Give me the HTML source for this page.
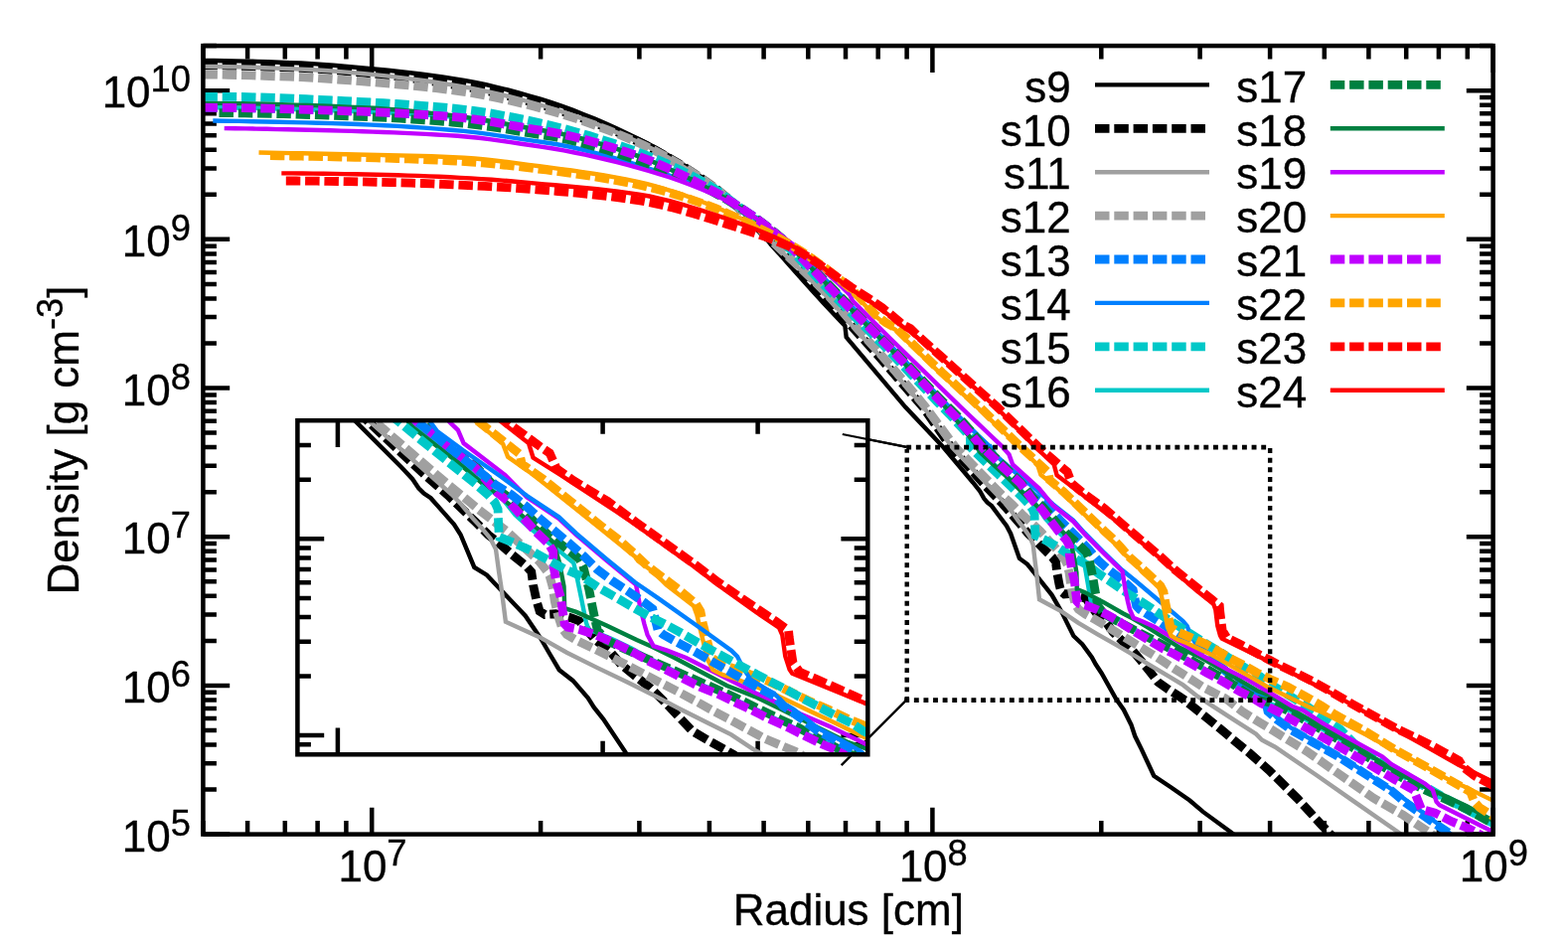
<!DOCTYPE html>
<html><head><meta charset="utf-8"><title>Density profiles</title>
<style>html,body{margin:0;padding:0;background:#fff}svg{display:block}</style></head>
<body>
<svg width="1578" height="947" viewBox="0 0 1578 947">
<defs><clipPath id="cm"><rect x="204.4" y="46.1" width="1298.2" height="793.5"/></clipPath>
<clipPath id="ci"><rect x="299.4" y="423.2" width="573.9" height="336.1"/></clipPath></defs>
<rect width="1578" height="947" fill="#fff"/>
<g stroke="#000" stroke-width="4.5" fill="none" stroke-linecap="butt">
<path d="M204.4 839.6 v-13.5 M204.4 46.1 v13.5"/>
<path d="M249.1 839.6 v-13.5 M249.1 46.1 v13.5"/>
<path d="M286.8 839.6 v-13.5 M286.8 46.1 v13.5"/>
<path d="M319.6 839.6 v-13.5 M319.6 46.1 v13.5"/>
<path d="M348.4 839.6 v-13.5 M348.4 46.1 v13.5"/>
<path d="M374.2 839.6 v-26.8 M374.2 46.1 v26.8"/>
<path d="M544.1 839.6 v-13.5 M544.1 46.1 v13.5"/>
<path d="M643.4 839.6 v-13.5 M643.4 46.1 v13.5"/>
<path d="M713.9 839.6 v-13.5 M713.9 46.1 v13.5"/>
<path d="M768.6 839.6 v-13.5 M768.6 46.1 v13.5"/>
<path d="M813.3 839.6 v-13.5 M813.3 46.1 v13.5"/>
<path d="M851.0 839.6 v-13.5 M851.0 46.1 v13.5"/>
<path d="M883.7 839.6 v-13.5 M883.7 46.1 v13.5"/>
<path d="M912.6 839.6 v-13.5 M912.6 46.1 v13.5"/>
<path d="M938.4 839.6 v-26.8 M938.4 46.1 v26.8"/>
<path d="M1108.3 839.6 v-13.5 M1108.3 46.1 v13.5"/>
<path d="M1207.6 839.6 v-13.5 M1207.6 46.1 v13.5"/>
<path d="M1278.1 839.6 v-13.5 M1278.1 46.1 v13.5"/>
<path d="M1332.8 839.6 v-13.5 M1332.8 46.1 v13.5"/>
<path d="M1377.4 839.6 v-13.5 M1377.4 46.1 v13.5"/>
<path d="M1415.2 839.6 v-13.5 M1415.2 46.1 v13.5"/>
<path d="M1447.9 839.6 v-13.5 M1447.9 46.1 v13.5"/>
<path d="M1476.8 839.6 v-13.5 M1476.8 46.1 v13.5"/>
<path d="M1502.6 839.6 v-26.8 M1502.6 46.1 v26.8"/>
<path d="M204.4 839.6 h26.8 M1502.6 839.6 h-26.8"/>
<path d="M204.4 794.5 h13.5 M1502.6 794.5 h-13.5"/>
<path d="M204.4 768.2 h13.5 M1502.6 768.2 h-13.5"/>
<path d="M204.4 749.5 h13.5 M1502.6 749.5 h-13.5"/>
<path d="M204.4 735.0 h13.5 M1502.6 735.0 h-13.5"/>
<path d="M204.4 723.1 h13.5 M1502.6 723.1 h-13.5"/>
<path d="M204.4 713.1 h13.5 M1502.6 713.1 h-13.5"/>
<path d="M204.4 704.4 h13.5 M1502.6 704.4 h-13.5"/>
<path d="M204.4 696.8 h13.5 M1502.6 696.8 h-13.5"/>
<path d="M204.4 689.9 h26.8 M1502.6 689.9 h-26.8"/>
<path d="M204.4 644.9 h13.5 M1502.6 644.9 h-13.5"/>
<path d="M204.4 618.5 h13.5 M1502.6 618.5 h-13.5"/>
<path d="M204.4 599.8 h13.5 M1502.6 599.8 h-13.5"/>
<path d="M204.4 585.3 h13.5 M1502.6 585.3 h-13.5"/>
<path d="M204.4 573.4 h13.5 M1502.6 573.4 h-13.5"/>
<path d="M204.4 563.4 h13.5 M1502.6 563.4 h-13.5"/>
<path d="M204.4 554.7 h13.5 M1502.6 554.7 h-13.5"/>
<path d="M204.4 547.1 h13.5 M1502.6 547.1 h-13.5"/>
<path d="M204.4 540.2 h26.8 M1502.6 540.2 h-26.8"/>
<path d="M204.4 495.2 h13.5 M1502.6 495.2 h-13.5"/>
<path d="M204.4 468.8 h13.5 M1502.6 468.8 h-13.5"/>
<path d="M204.4 450.1 h13.5 M1502.6 450.1 h-13.5"/>
<path d="M204.4 435.6 h13.5 M1502.6 435.6 h-13.5"/>
<path d="M204.4 423.7 h13.5 M1502.6 423.7 h-13.5"/>
<path d="M204.4 413.7 h13.5 M1502.6 413.7 h-13.5"/>
<path d="M204.4 405.0 h13.5 M1502.6 405.0 h-13.5"/>
<path d="M204.4 397.4 h13.5 M1502.6 397.4 h-13.5"/>
<path d="M204.4 390.5 h26.8 M1502.6 390.5 h-26.8"/>
<path d="M204.4 345.5 h13.5 M1502.6 345.5 h-13.5"/>
<path d="M204.4 319.1 h13.5 M1502.6 319.1 h-13.5"/>
<path d="M204.4 300.4 h13.5 M1502.6 300.4 h-13.5"/>
<path d="M204.4 285.9 h13.5 M1502.6 285.9 h-13.5"/>
<path d="M204.4 274.1 h13.5 M1502.6 274.1 h-13.5"/>
<path d="M204.4 264.0 h13.5 M1502.6 264.0 h-13.5"/>
<path d="M204.4 255.4 h13.5 M1502.6 255.4 h-13.5"/>
<path d="M204.4 247.7 h13.5 M1502.6 247.7 h-13.5"/>
<path d="M204.4 240.8 h26.8 M1502.6 240.8 h-26.8"/>
<path d="M204.4 195.8 h13.5 M1502.6 195.8 h-13.5"/>
<path d="M204.4 169.4 h13.5 M1502.6 169.4 h-13.5"/>
<path d="M204.4 150.7 h13.5 M1502.6 150.7 h-13.5"/>
<path d="M204.4 136.2 h13.5 M1502.6 136.2 h-13.5"/>
<path d="M204.4 124.4 h13.5 M1502.6 124.4 h-13.5"/>
<path d="M204.4 114.3 h13.5 M1502.6 114.3 h-13.5"/>
<path d="M204.4 105.7 h13.5 M1502.6 105.7 h-13.5"/>
<path d="M204.4 98.0 h13.5 M1502.6 98.0 h-13.5"/>
<path d="M204.4 91.2 h26.8 M1502.6 91.2 h-26.8"/>
<path d="M204.4 46.1 h13.5 M1502.6 46.1 h-13.5"/>
</g>
<g clip-path="url(#cm)" fill="none" stroke-linejoin="miter">
<path d="M204.4 61.0 L215.3 61.0 L226.3 61.2 L237.2 61.4 L248.2 61.6 L259.1 61.9 L270.1 62.3 L281.0 62.7 L292.0 63.1 L302.9 63.5 L313.9 64.1 L324.8 64.9 L335.8 65.7 L346.7 66.7 L357.7 67.7 L368.6 68.7 L379.6 69.7 L390.5 70.8 L401.5 72.0 L412.4 73.2 L423.4 74.5 L434.3 75.9 L445.3 77.5 L456.2 79.1 L467.2 80.9 L478.1 82.9 L489.1 85.2 L500.0 87.8 L511.0 90.5 L521.9 93.4 L532.9 96.5 L543.8 99.7 L554.8 103.2 L565.7 106.9 L576.7 110.9 L587.6 115.2 L598.6 119.6 L609.5 124.3 L620.5 129.2 L631.4 134.4 L642.4 139.7 L653.3 145.3 L664.3 151.4 L675.2 157.9 L686.2 164.8 L697.1 172.1 L708.1 179.7 L719.0 187.7 L730.0 196.6 L740.9 206.5 L751.9 218.0 L762.8 230.7 L773.8 243.6 L784.7 255.9 L795.7 268.3 L806.6 280.6 L817.6 292.8 L828.5 304.8 L839.5 316.6 L850.4 328.0 L851.7 339.4 L911.3 409.8 L949.3 450.0 L979.1 485.5 L986.4 494.7 L990.2 501.6 L993.6 505.6 L998.0 509.1 L1005.7 519.5 L1013.0 529.3 L1017.1 537.0 L1025.9 561.9 L1033.9 567.8 L1041.2 576.9 L1058.6 598.8 L1068.8 616.6 L1074.1 627.4 L1080.4 640.0 L1089.1 648.1 L1098.8 661.4 L1102.7 668.6 L1108.6 677.4 L1123.1 703.3 L1130.8 714.2 L1138.4 729.4 L1142.2 740.8 L1148.8 754.1 L1161.2 780.8 L1178.3 792.2 L1197.3 805.5 L1210.6 816.9 L1239.1 837.8 L1248.0 845.0" stroke="#000000" stroke-width="4.4"/>
<path d="M204.4 65.8 L216.7 65.9 L229.0 66.0 L241.2 66.3 L253.5 66.6 L265.8 67.0 L278.1 67.4 L290.4 67.9 L302.7 68.4 L314.9 69.0 L327.2 69.9 L339.5 70.8 L351.8 71.9 L364.1 73.0 L376.3 74.2 L388.6 75.6 L400.9 77.0 L413.2 78.6 L425.5 80.4 L437.7 82.2 L450.0 84.1 L462.3 86.2 L474.6 88.4 L486.9 90.8 L499.2 93.5 L511.4 96.5 L523.7 99.6 L536.0 102.9 L548.3 106.4 L560.6 110.2 L572.8 114.2 L585.1 118.6 L597.4 123.2 L609.7 128.1 L622.0 133.3 L634.2 138.7 L646.5 144.4 L658.8 150.7 L671.1 157.5 L683.4 164.8 L695.7 172.6 L707.9 180.8 L720.2 189.6 L732.5 199.6 L744.8 210.7 L757.1 223.0 L769.3 236.0 L781.6 248.8 L793.9 261.0 L806.2 273.0 L818.5 285.3 L830.7 298.2 L843.0 312.2 L855.3 326.5 L867.6 340.0 L879.9 353.5 L892.2 367.5 L904.4 381.7 L916.7 395.8 L929.0 409.8 L957.1 450.0 L979.3 474.9 L992.6 489.8 L1008.8 506.8 L1026.3 526.9 L1035.0 537.3 L1042.1 543.9 L1050.4 552.5 L1059.1 560.8 L1062.5 565.4 L1063.7 575.8 L1065.9 587.8 L1067.8 595.3 L1071.2 597.9 L1078.0 597.4 L1088.2 600.5 L1093.2 602.8 L1103.0 616.6 L1112.3 625.0 L1120.1 636.0 L1130.2 645.8 L1139.0 653.9 L1148.6 665.2 L1157.3 676.1 L1165.5 686.5 L1176.2 694.0 L1186.9 700.9 L1191.9 704.4 L1198.7 709.8 L1213.5 721.6 L1228.3 733.7 L1242.8 745.9 L1257.2 757.7 L1277.1 775.1 L1305.7 803.6 L1330.0 830.2 L1340.3 841.0" stroke="#000000" stroke-width="8.8" stroke-dasharray="14.5 4.8" stroke-dashoffset="0"/>
<path d="M204.4 66.9 L216.7 67.0 L229.0 67.2 L241.3 67.4 L253.6 67.8 L265.9 68.2 L278.2 68.6 L290.4 69.1 L302.7 69.6 L315.0 70.2 L327.3 71.0 L339.6 71.9 L351.9 72.9 L364.2 74.0 L376.5 75.1 L388.8 76.4 L401.1 77.9 L413.4 79.4 L425.7 81.0 L437.9 82.8 L450.2 84.7 L462.5 86.7 L474.8 88.9 L487.1 91.4 L499.4 94.1 L511.7 97.0 L524.0 100.1 L536.3 103.5 L548.6 107.0 L560.9 110.8 L573.2 114.9 L585.5 119.2 L597.7 123.9 L610.0 128.8 L622.3 134.0 L634.6 139.4 L646.9 145.1 L659.2 151.3 L671.5 158.0 L683.8 165.3 L696.1 173.0 L708.4 181.2 L720.7 189.9 L733.0 200.0 L745.3 211.1 L757.5 223.3 L769.8 236.2 L782.1 248.7 L794.4 260.7 L806.7 272.6 L819.0 284.7 L831.3 297.5 L843.6 311.4 L855.9 325.8 L868.2 339.3 L880.5 352.8 L892.8 366.8 L905.0 381.0 L917.3 395.3 L929.6 409.8 L958.2 450.0 L1000.9 495.3 L1011.6 506.6 L1017.8 514.3 L1025.1 524.6 L1030.0 531.0 L1036.2 539.9 L1039.7 548.2 L1041.7 565.4 L1043.1 576.3 L1046.0 603.3 L1068.3 615.4 L1085.2 626.8 L1104.6 638.3 L1124.0 649.3 L1142.3 660.2 L1156.8 669.2 L1176.2 680.7 L1190.7 689.4 L1205.3 700.9 L1211.1 704.4 L1210.8 704.4 L1241.3 724.2 L1264.1 738.7 L1270.0 744.8 L1283.2 751.7 L1325.1 780.3 L1363.1 806.9 L1406.8 837.3 L1412.0 841.0" stroke="#a0a0a0" stroke-width="4.4"/>
<path d="M204.4 75.0 L216.7 75.1 L229.0 75.3 L241.4 75.6 L253.7 75.9 L266.0 76.3 L278.3 76.8 L290.7 77.2 L303.0 77.7 L315.3 78.3 L327.6 79.1 L340.0 80.0 L352.3 80.9 L364.6 81.9 L376.9 82.8 L389.3 83.9 L401.6 85.0 L413.9 86.1 L426.2 87.4 L438.6 88.7 L450.9 90.2 L463.2 91.8 L475.5 93.7 L487.9 95.9 L500.2 98.4 L512.5 101.0 L524.8 103.9 L537.2 107.0 L549.5 110.2 L561.8 113.7 L574.1 117.5 L586.5 121.6 L598.8 126.0 L611.1 130.6 L623.4 135.5 L635.8 140.7 L648.1 146.2 L660.4 152.3 L672.7 159.0 L685.0 166.2 L697.4 173.9 L709.7 182.1 L722.0 190.9 L734.3 201.2 L746.7 212.4 L759.0 224.5 L771.3 237.0 L783.6 249.1 L796.0 260.7 L808.3 272.2 L820.6 284.0 L832.9 296.6 L845.3 310.6 L857.6 325.0 L869.9 338.6 L882.2 352.1 L894.6 366.1 L906.9 380.4 L919.2 394.9 L931.5 409.8 L961.4 450.0 L999.9 489.5 L1009.6 499.4 L1019.3 508.5 L1028.5 517.7 L1046.7 534.4 L1067.6 557.5 L1072.4 564.7 L1074.1 568.3 L1076.0 576.3 L1077.5 587.8 L1079.5 598.2 L1082.3 608.5 L1085.3 613.2 L1092.5 618.2 L1103.4 624.2 L1114.2 630.6 L1125.4 637.5 L1136.5 644.3 L1157.7 657.4 L1168.6 664.3 L1179.6 671.6 L1190.7 678.5 L1201.4 685.4 L1212.0 692.2 L1223.5 698.1 L1231.7 702.1 L1235.3 704.4 L1250.0 715.9 L1265.6 725.7 L1315.2 756.2 L1344.1 776.5 L1382.1 803.1 L1412.2 820.3 L1428.1 831.0 L1441.0 839.5 L1446.0 843.0" stroke="#a0a0a0" stroke-width="8.8" stroke-dasharray="14.5 4.8" stroke-dashoffset="0"/>
<path d="M204.4 108.2 L217.7 108.3 L231.0 108.4 L244.3 108.7 L257.6 108.9 L270.8 109.2 L284.1 109.6 L297.4 110.0 L310.7 110.4 L324.0 110.8 L337.3 111.3 L350.6 111.8 L363.9 112.2 L377.1 112.8 L390.4 113.4 L403.7 114.1 L417.0 114.8 L430.3 115.7 L443.6 116.6 L456.9 117.7 L470.2 119.0 L483.4 120.8 L496.7 122.9 L510.0 125.3 L523.3 127.7 L536.6 130.0 L549.9 132.1 L563.2 134.5 L576.5 137.5 L589.8 140.8 L603.0 144.5 L616.3 148.5 L629.6 152.8 L642.9 157.3 L656.2 162.4 L669.5 168.1 L682.8 174.2 L696.1 180.8 L709.3 187.7 L722.6 194.9 L735.9 203.0 L749.2 211.6 L762.5 220.8 L775.8 230.9 L789.1 242.2 L802.4 255.0 L815.7 268.6 L828.9 282.8 L842.2 296.8 L855.5 310.3 L868.8 323.6 L882.1 336.8 L895.4 350.2 L908.7 364.0 L922.0 378.0 L935.2 392.1 L948.5 405.9 L961.8 419.5 L975.1 434.3 L988.4 450.1 L988.5 450.0 L1002.0 462.9 L1010.8 471.5 L1029.9 489.5 L1039.2 498.8 L1049.5 506.3 L1059.3 515.6 L1067.9 524.7 L1077.2 533.9 L1086.3 543.2 L1096.2 553.4 L1104.9 563.7 L1114.6 572.4 L1124.8 580.3 L1134.9 588.6 L1140.2 593.6 L1143.6 609.7 L1147.0 613.2 L1157.7 620.1 L1168.4 626.9 L1206.7 653.0 L1218.8 660.2 L1223.6 667.3 L1230.9 673.1 L1246.2 686.6 L1265.6 698.7 L1270.5 702.7 L1273.5 704.4 L1276.0 716.0 L1285.0 724.0 L1300.0 734.9 L1322.8 747.8 L1345.6 760.7 L1400.0 795.5 L1414.4 807.8 L1430.0 818.8 L1445.6 829.8 L1458.0 838.0 L1462.0 842.0" stroke="#0080ff" stroke-width="8.8" stroke-dasharray="14.5 4.8" stroke-dashoffset="0"/>
<path d="M214.3 121.5 L227.6 121.7 L240.8 121.9 L254.1 122.2 L267.4 122.5 L280.6 122.7 L293.9 123.1 L307.2 123.4 L320.4 123.7 L333.7 124.1 L347.0 124.5 L360.2 125.0 L373.5 125.6 L386.8 126.2 L400.0 126.9 L413.3 127.8 L426.6 128.6 L439.8 129.6 L453.1 130.7 L466.4 131.9 L479.6 133.4 L492.9 135.1 L506.1 137.1 L519.4 139.1 L532.7 141.1 L545.9 143.0 L559.2 145.0 L572.5 147.5 L585.7 150.5 L599.0 153.8 L612.3 157.4 L625.5 161.2 L638.8 165.2 L652.1 169.3 L665.3 173.6 L678.6 178.2 L691.9 183.2 L705.1 188.6 L718.4 194.5 L731.7 201.6 L744.9 209.7 L758.2 218.0 L771.5 227.1 L784.7 237.3 L798.0 248.8 L811.3 261.4 L824.5 274.8 L837.8 288.4 L851.1 302.0 L864.3 315.6 L877.6 329.3 L890.9 342.4 L904.1 355.9 L917.4 369.9 L930.7 383.9 L943.9 397.9 L957.2 411.4 L970.5 424.6 L983.7 437.6 L997.0 450.1 L997.1 450.0 L1002.2 458.3 L1018.6 472.7 L1043.3 493.1 L1059.7 507.5 L1080.1 523.6 L1091.3 536.1 L1110.7 555.7 L1129.1 573.5 L1143.6 585.3 L1168.4 606.2 L1190.7 625.2 L1194.6 629.9 L1198.2 638.5 L1203.0 647.2 L1218.8 658.7 L1224.8 665.9 L1230.9 670.2 L1246.2 684.5 L1265.6 696.6 L1273.5 701.9 L1275.7 704.4 L1277.5 714.0 L1285.0 722.0 L1300.0 733.0 L1345.6 759.0 L1400.0 794.0 L1445.6 828.0 L1462.0 841.0" stroke="#0080ff" stroke-width="4.4"/>
<path d="M204.4 97.3 L217.4 97.3 L230.3 97.4 L243.3 97.5 L256.2 97.8 L269.2 98.2 L282.1 98.6 L295.1 99.1 L308.0 99.7 L321.0 100.3 L333.9 101.0 L346.9 101.6 L359.9 102.3 L372.8 103.0 L385.8 103.7 L398.7 104.5 L411.7 105.3 L424.6 106.3 L437.6 107.4 L450.5 108.5 L463.5 109.8 L476.4 111.4 L489.4 113.3 L502.3 115.5 L515.3 117.9 L528.3 120.5 L541.2 123.3 L554.2 126.2 L567.1 129.4 L580.1 132.9 L593.0 136.6 L606.0 140.6 L618.9 144.8 L631.9 149.3 L644.8 154.0 L657.8 159.1 L670.8 164.6 L683.7 170.7 L696.7 177.2 L709.6 184.3 L722.6 192.2 L735.5 202.0 L748.5 211.8 L761.4 221.5 L774.4 231.7 L787.3 243.2 L800.3 256.0 L813.2 269.6 L826.2 283.5 L839.2 297.4 L852.1 310.6 L865.1 323.6 L878.0 336.5 L891.0 349.4 L903.9 362.9 L916.9 376.6 L929.8 390.3 L942.8 403.9 L955.7 417.1 L968.7 431.3 L976.3 439.5 L976.6 449.5 L976.5 450.0 L989.6 462.9 L1008.2 480.7 L1027.1 498.8 L1034.8 506.8 L1039.2 512.5 L1041.1 517.7 L1041.3 525.8 L1041.7 535.5 L1042.1 538.9 L1050.2 542.7 L1062.5 549.3 L1073.2 556.3 L1083.8 563.1 L1094.9 568.9 L1105.8 577.5 L1116.5 584.6 L1127.2 592.1 L1138.1 599.3 L1149.0 605.7 L1159.6 612.6 L1170.4 620.1 L1181.0 626.9 L1213.7 647.7 L1224.9 654.3 L1235.5 661.2 L1246.7 668.1 L1257.3 674.8 L1268.4 681.0 L1275.3 686.6 L1278.1 688.3 L1315.2 710.8 L1348.7 734.0 L1364.6 750.0 L1400.0 772.0 L1453.0 802.5 L1500.8 827.5 L1510.0 832.5" stroke="#00c8c8" stroke-width="8.8" stroke-dasharray="14.5 4.8" stroke-dashoffset="0"/>
<path d="M204.4 108.2 L217.6 108.3 L230.8 108.4 L244.0 108.7 L257.2 108.9 L270.4 109.2 L283.6 109.6 L296.9 110.0 L310.1 110.4 L323.3 110.8 L336.5 111.3 L349.7 111.7 L362.9 112.2 L376.1 112.7 L389.3 113.3 L402.5 114.0 L415.7 114.7 L428.9 115.6 L442.1 116.5 L455.4 117.6 L468.6 118.8 L481.8 120.5 L495.0 122.6 L508.2 125.0 L521.4 127.4 L534.6 129.7 L547.8 131.8 L561.0 134.1 L574.2 136.9 L587.4 140.2 L600.6 143.8 L613.9 147.7 L627.1 151.9 L640.3 156.4 L653.5 161.3 L666.7 166.8 L679.9 172.9 L693.1 179.3 L706.3 186.1 L719.5 193.2 L732.7 201.0 L745.9 209.5 L759.1 218.4 L772.4 228.2 L785.6 239.1 L798.8 251.4 L812.0 264.8 L825.2 278.8 L838.4 292.8 L851.6 306.4 L864.8 319.6 L878.0 332.8 L891.2 345.9 L904.4 359.6 L917.6 373.5 L930.9 387.2 L944.1 401.1 L957.3 416.3 L970.5 432.7 L983.7 450.1 L983.7 450.0 L1001.5 468.3 L1014.9 480.7 L1033.8 499.9 L1043.3 508.7 L1052.0 521.8 L1060.7 531.1 L1070.4 540.3 L1080.9 549.9 L1089.6 558.5 L1092.0 571.2 L1094.4 585.0 L1097.6 603.9 L1099.3 609.6 L1104.4 611.5 L1115.5 617.2 L1126.7 623.5 L1138.0 631.2 L1170.9 650.8 L1204.2 668.7 L1237.5 687.8 L1263.9 701.9 L1268.4 704.6 L1300.0 716.0 L1348.7 744.0 L1400.0 772.0 L1434.2 792.0 L1453.0 804.0 L1500.8 829.5 L1510.0 834.0" stroke="#00c8c8" stroke-width="4.4"/>
<path d="M220.5 113.6 L233.5 113.7 L246.6 113.9 L259.6 114.1 L272.7 114.4 L285.7 114.7 L298.8 115.1 L311.8 115.5 L324.8 115.9 L337.9 116.4 L350.9 116.9 L364.0 117.4 L377.0 117.9 L390.0 118.5 L403.1 119.2 L416.1 120.0 L429.2 120.9 L442.2 121.9 L455.3 123.0 L468.3 124.2 L481.3 125.8 L494.4 127.6 L507.4 129.7 L520.5 131.9 L533.5 134.0 L546.6 136.0 L559.6 138.0 L572.6 140.7 L585.7 143.9 L598.7 147.5 L611.8 151.3 L624.8 155.5 L637.8 159.8 L650.9 164.3 L663.9 169.2 L677.0 174.4 L690.0 180.0 L703.1 186.0 L716.1 192.3 L729.1 199.5 L742.2 207.5 L755.2 215.9 L768.3 225.0 L781.3 235.1 L794.4 246.5 L807.4 259.0 L820.4 272.3 L833.5 285.9 L846.5 299.4 L859.6 312.4 L872.6 325.5 L885.6 338.5 L898.7 351.6 L911.7 365.3 L924.8 379.0 L937.8 392.9 L950.9 406.3 L963.9 419.1 L976.9 433.6 L990.0 450.1 L990.0 450.0 L1003.1 461.8 L1011.7 470.4 L1027.6 485.9 L1040.4 502.2 L1048.3 509.0 L1056.9 518.4 L1065.4 528.4 L1073.6 537.3 L1086.2 548.7 L1093.2 555.5 L1095.6 560.8 L1099.5 579.2 L1101.5 591.3 L1103.9 605.1 L1104.9 609.7 L1110.7 617.4 L1121.6 623.6 L1133.7 630.0 L1189.7 659.1 L1200.9 665.5 L1212.0 671.8 L1222.0 677.6 L1233.7 684.0 L1244.3 690.9 L1255.4 697.8 L1266.5 704.4 L1280.0 707.5 L1300.0 717.0 L1330.4 734.5 L1360.8 752.0 L1400.0 776.5 L1430.4 793.2 L1453.2 803.6 L1476.0 814.2 L1500.8 827.9 L1510.0 833.0" stroke="#008040" stroke-width="8.8" stroke-dasharray="14.5 4.8" stroke-dashoffset="0"/>
<path d="M204.4 103.9 L217.6 103.9 L230.8 104.1 L244.0 104.2 L257.2 104.5 L270.4 104.8 L283.6 105.2 L296.9 105.6 L310.1 106.0 L323.3 106.5 L336.5 107.0 L349.7 107.6 L362.9 108.1 L376.1 108.8 L389.3 109.7 L402.5 110.8 L415.7 112.0 L428.9 113.4 L442.1 114.8 L455.4 116.3 L468.6 117.9 L481.8 119.8 L495.0 122.0 L508.2 124.3 L521.4 126.7 L534.6 129.1 L547.8 131.3 L561.0 133.7 L574.2 136.7 L587.4 140.0 L600.6 143.6 L613.9 147.6 L627.1 151.9 L640.3 156.4 L653.5 161.4 L666.7 166.9 L679.9 172.9 L693.1 179.3 L706.3 186.1 L719.5 193.2 L732.7 201.0 L745.9 209.5 L759.1 218.4 L772.4 228.2 L785.6 239.1 L798.8 251.4 L812.0 264.8 L825.2 278.8 L838.4 292.8 L851.6 306.4 L864.8 319.6 L878.0 332.8 L891.2 345.9 L904.4 359.6 L917.6 373.5 L930.9 387.2 L944.1 401.1 L957.3 416.3 L970.5 432.7 L983.7 450.1 L983.4 450.6 L986.5 455.3 L1001.1 468.9 L1014.6 481.2 L1033.5 500.4 L1043.0 508.6 L1052.1 517.7 L1061.8 528.1 L1071.1 536.7 L1077.2 543.6 L1078.0 548.2 L1080.4 557.9 L1083.4 576.3 L1083.8 593.0 L1091.3 595.9 L1110.7 606.2 L1130.0 617.2 L1139.7 622.3 L1154.3 630.8 L1187.8 652.0 L1206.0 660.4 L1219.6 668.2 L1265.6 695.2 L1276.7 699.8 L1278.1 700.6 L1300.0 714.0 L1330.4 731.5 L1360.8 749.0 L1400.0 773.5 L1430.4 790.2 L1453.2 800.6 L1476.0 811.2 L1500.8 824.9 L1510.0 830.0" stroke="#008040" stroke-width="4.4"/>
<path d="M225.7 129.1 L236.4 129.3 L247.0 129.4 L257.7 129.6 L268.4 129.8 L279.1 130.1 L289.7 130.3 L300.4 130.5 L311.1 130.8 L321.8 131.0 L332.4 131.3 L343.1 131.6 L353.8 131.9 L364.5 132.2 L375.1 132.6 L385.8 133.0 L396.5 133.4 L407.2 133.9 L417.8 134.4 L428.5 134.9 L439.2 135.5 L449.9 136.1 L460.5 136.8 L471.2 137.7 L481.9 138.8 L492.6 140.1 L503.2 141.6 L513.9 143.1 L524.6 144.7 L535.3 146.3 L545.9 147.9 L556.6 149.5 L567.3 151.4 L578.0 153.5 L588.6 155.7 L599.3 158.0 L610.0 160.5 L620.7 163.1 L631.3 165.9 L642.0 168.8 L652.7 171.8 L663.3 175.1 L674.0 178.5 L684.7 182.2 L695.4 186.2 L706.0 190.4 L716.7 194.9 L727.4 200.1 L738.1 206.1 L748.7 212.3 L759.4 218.7 L770.1 225.6 L780.8 233.0 L791.4 240.9 L802.1 249.1 L812.8 257.8 L823.5 266.9 L834.1 276.5 L844.8 286.5 L855.5 297.0 L858.0 302.7 L896.0 340.7 L946.7 390.1 L967.0 409.8 L1009.2 450.0 L1010.4 451.6 L1015.5 457.4 L1019.1 467.4 L1045.7 491.6 L1059.7 508.6 L1080.1 524.7 L1091.3 537.2 L1110.7 556.8 L1129.1 574.7 L1129.6 575.2 L1132.5 593.6 L1134.9 605.1 L1136.9 613.2 L1140.7 621.8 L1149.5 625.2 L1161.6 630.8 L1206.0 657.5 L1215.6 662.7 L1235.0 673.6 L1254.4 683.4 L1276.7 696.4 L1278.1 697.2 L1300.0 710.5 L1311.3 715.0 L1330.4 727.3 L1360.8 744.8 L1391.3 761.5 L1400.0 768.9 L1434.2 788.7 L1441.8 794.8 L1445.6 806.9 L1448.7 810.2 L1500.8 836.3 L1510.0 841.0" stroke="#c000ff" stroke-width="4.4"/>
<path d="M260.5 153.5 L271.4 153.7 L282.2 153.9 L293.1 154.1 L303.9 154.3 L314.8 154.5 L325.6 154.7 L336.5 155.0 L347.4 155.2 L358.2 155.5 L369.1 155.7 L379.9 155.9 L390.8 156.2 L401.7 156.4 L412.5 156.7 L423.4 157.0 L434.2 157.3 L445.1 157.7 L455.9 158.2 L466.8 158.7 L477.7 159.5 L488.5 160.5 L499.4 161.7 L510.2 163.0 L521.1 164.4 L531.9 165.9 L542.8 167.3 L553.7 168.6 L564.5 170.1 L575.4 171.5 L586.2 173.1 L597.1 174.7 L608.0 176.5 L618.8 178.4 L629.7 180.4 L640.5 182.6 L651.4 185.1 L662.2 188.1 L673.1 191.3 L684.0 194.9 L694.8 198.7 L705.7 202.7 L716.5 206.9 L727.4 211.4 L738.2 216.4 L749.1 221.6 L760.0 226.9 L770.8 232.4 L781.7 238.2 L792.5 244.4 L803.4 251.2 L814.3 258.6 L825.1 266.5 L836.0 275.0 L846.8 284.0 L857.7 293.6 L868.5 304.9 L879.4 316.9 L890.3 325.5 L901.1 331.8 L906.2 336.9 L946.7 376.2 L983.5 409.8 L1026.2 450.0 L1044.3 468.0 L1047.4 477.8 L1064.1 491.8 L1103.9 529.6 L1129.0 553.8 L1131.0 557.2 L1140.7 565.3 L1149.0 575.2 L1166.5 591.3 L1168.6 598.2 L1170.6 608.5 L1173.5 622.3 L1174.9 630.8 L1178.8 640.0 L1184.9 643.6 L1194.6 647.2 L1218.8 658.7 L1239.8 670.7 L1254.4 678.8 L1276.7 691.8 L1278.1 692.5 L1318.9 712.2 L1330.4 716.8 L1376.0 740.0 L1400.0 753.5 L1430.4 769.4 L1460.8 786.2 L1473.0 791.2 L1500.8 804.9 L1510.0 809.5" stroke="#ffa500" stroke-width="4.4"/>
<path d="M204.4 108.2 L217.7 108.3 L231.0 108.4 L244.3 108.7 L257.6 108.9 L270.8 109.2 L284.1 109.6 L297.4 110.0 L310.7 110.4 L324.0 110.8 L337.3 111.3 L350.6 111.8 L363.9 112.2 L377.1 112.8 L390.4 113.4 L403.7 114.1 L417.0 114.8 L430.3 115.7 L443.6 116.6 L456.9 117.7 L470.2 119.0 L483.4 120.8 L496.7 122.9 L510.0 125.3 L523.3 127.7 L536.6 130.0 L549.9 132.1 L563.2 134.5 L576.5 137.5 L589.8 140.8 L603.0 144.5 L616.3 148.5 L629.6 152.8 L642.9 157.3 L656.2 162.4 L669.5 168.1 L682.8 174.2 L696.1 180.8 L709.3 187.7 L722.6 194.9 L735.9 203.0 L749.2 211.6 L762.5 220.8 L775.8 230.9 L789.1 242.2 L802.4 255.0 L815.7 268.6 L828.9 282.8 L842.2 296.8 L855.5 310.3 L868.8 323.6 L882.1 336.8 L895.4 350.2 L908.7 364.0 L922.0 378.0 L935.2 392.1 L948.5 405.9 L961.8 419.5 L975.1 434.3 L988.4 450.1 L988.5 450.0 L1002.0 462.9 L1010.8 471.5 L1026.9 486.3 L1040.6 505.1 L1048.1 512.1 L1056.9 523.6 L1065.4 534.9 L1073.6 544.2 L1076.5 549.9 L1076.3 558.5 L1078.5 572.9 L1081.4 584.9 L1082.3 593.6 L1083.8 605.1 L1085.8 607.4 L1093.0 609.1 L1104.4 613.7 L1115.5 619.4 L1126.7 625.8 L1138.0 633.4 L1170.9 653.1 L1182.0 658.3 L1193.1 664.6 L1204.2 671.0 L1214.9 677.3 L1226.9 683.7 L1237.5 690.0 L1248.6 696.4 L1258.8 701.5 L1263.9 704.4 L1269.4 707.8 L1286.2 716.2 L1320.2 736.0 L1337.3 745.5 L1354.0 755.0 L1403.8 784.6 L1420.2 793.7 L1422.8 795.2 L1430.4 814.2 L1444.1 818.0 L1461.2 826.8 L1478.3 834.0 L1490.0 840.0 L1495.0 843.0" stroke="#c000ff" stroke-width="8.8" stroke-dasharray="14.5 4.8" stroke-dashoffset="0"/>
<path d="M271.9 156.7 L282.6 156.8 L293.3 157.0 L304.0 157.2 L314.6 157.4 L325.3 157.6 L336.0 157.8 L346.7 158.1 L357.4 158.3 L368.1 158.6 L378.8 158.9 L389.4 159.2 L400.1 159.6 L410.8 159.9 L421.5 160.3 L432.2 160.8 L442.9 161.3 L453.6 161.8 L464.3 162.4 L474.9 163.1 L485.6 163.9 L496.3 164.9 L507.0 166.0 L517.7 167.2 L528.4 168.4 L539.1 169.7 L549.7 171.0 L560.4 172.3 L571.1 173.8 L581.8 175.3 L592.5 176.9 L603.2 178.6 L613.9 180.4 L624.5 182.4 L635.2 184.4 L645.9 186.7 L656.6 189.2 L667.3 192.0 L678.0 195.2 L688.7 198.5 L699.3 202.1 L710.0 205.8 L720.7 209.8 L731.4 214.4 L742.1 219.3 L752.8 224.3 L763.5 229.4 L774.1 234.6 L784.8 240.2 L795.5 246.3 L806.2 252.8 L816.9 259.9 L827.6 267.5 L838.3 275.7 L849.0 284.4 L859.6 293.6 L870.3 304.9 L881.0 316.7 L891.7 324.8 L902.4 330.6 L907.5 335.6 L948.0 374.9 L984.8 408.5 L1027.6 450.0 L1055.0 475.5 L1056.4 483.2 L1070.2 494.8 L1111.5 534.5 L1118.9 541.2 L1128.1 551.0 L1136.8 560.8 L1146.5 569.4 L1156.7 578.6 L1167.9 589.6 L1170.9 595.3 L1172.3 603.9 L1174.2 613.2 L1176.2 622.3 L1177.9 630.8 L1183.7 635.3 L1194.5 639.9 L1213.7 648.3 L1239.8 663.3 L1254.0 670.7 L1265.1 677.1 L1275.8 682.2 L1278.1 683.5 L1296.4 691.4 L1313.2 700.6 L1330.3 710.5 L1341.8 718.0 L1375.3 736.8 L1404.6 754.9 L1438.0 773.2 L1471.5 792.2 L1479.8 797.0 L1483.7 806.9 L1489.0 812.7 L1500.8 820.3 L1510.0 826.0" stroke="#ffa500" stroke-width="8.8" stroke-dasharray="14.5 4.8" stroke-dashoffset="0"/>
<path d="M287.8 182.0 L298.3 182.0 L308.8 182.1 L319.4 182.2 L329.9 182.4 L340.4 182.5 L350.9 182.7 L361.5 182.9 L372.0 183.1 L382.5 183.3 L393.0 183.6 L403.6 183.8 L414.1 184.2 L424.6 184.5 L435.1 184.9 L445.7 185.4 L456.2 185.9 L466.7 186.4 L477.2 186.9 L487.8 187.4 L498.3 188.0 L508.8 188.6 L519.3 189.3 L529.9 190.0 L540.4 190.8 L550.9 191.7 L561.4 192.5 L571.9 193.4 L582.5 194.4 L593.0 195.4 L603.5 196.6 L614.0 197.8 L624.6 199.1 L635.1 200.6 L645.6 202.2 L656.1 204.1 L666.7 206.5 L677.2 209.1 L687.7 212.0 L698.2 215.0 L708.8 218.3 L719.3 221.6 L729.8 225.0 L740.3 228.4 L750.9 231.7 L761.4 235.2 L771.9 238.9 L782.4 243.0 L793.0 247.5 L803.5 252.6 L814.0 258.9 L824.5 266.0 L835.1 273.6 L845.6 281.3 L856.1 288.7 L866.6 295.5 L877.1 302.2 L887.7 309.6 L898.2 317.9 L908.7 326.8 L916.3 330.6 L922.7 336.9 L946.7 358.4 L972.1 381.3 L1003.8 409.8 L1045.3 450.0 L1069.3 470.9 L1074.2 474.9 L1078.6 486.7 L1089.4 495.7 L1111.4 511.6 L1129.5 527.5 L1168.6 560.8 L1181.8 572.8 L1208.9 594.9 L1219.1 602.9 L1227.3 609.8 L1227.7 615.0 L1228.7 623.0 L1230.2 634.5 L1234.6 641.6 L1247.2 648.0 L1270.0 660.2 L1278.1 664.5 L1286.2 668.7 L1303.7 677.1 L1320.4 685.4 L1337.9 695.2 L1360.8 708.5 L1406.5 733.8 L1422.8 741.4 L1439.5 749.6 L1456.3 758.7 L1468.4 765.5 L1472.2 771.9 L1483.7 780.6 L1500.8 789.7 L1510.0 794.6" stroke="#ff0000" stroke-width="8.8" stroke-dasharray="14.5 4.8" stroke-dashoffset="0"/>
<path d="M283.3 174.4 L293.9 174.4 L304.5 174.5 L315.0 174.6 L325.6 174.7 L336.2 174.9 L346.8 175.1 L357.4 175.3 L367.9 175.5 L378.5 175.7 L389.1 176.0 L399.7 176.2 L410.2 176.6 L420.8 176.9 L431.4 177.4 L442.0 177.8 L452.6 178.3 L463.1 178.9 L473.7 179.4 L484.3 180.1 L494.9 180.8 L505.5 181.6 L516.0 182.5 L526.6 183.5 L537.2 184.4 L547.8 185.4 L558.4 186.3 L568.9 187.3 L579.5 188.2 L590.1 189.2 L600.7 190.3 L611.2 191.4 L621.8 192.7 L632.4 194.1 L643.0 195.6 L653.6 197.5 L664.1 199.8 L674.7 202.4 L685.3 205.4 L695.9 208.5 L706.5 211.8 L717.0 215.3 L727.6 218.9 L738.2 222.6 L748.8 226.3 L759.3 230.2 L769.9 234.5 L780.5 239.1 L791.1 244.2 L801.7 249.8 L812.2 256.8 L822.8 264.8 L833.4 273.3 L844.0 281.8 L854.6 289.7 L865.1 296.7 L875.7 303.4 L886.3 310.8 L896.9 319.1 L907.5 328.0 L915.1 333.1 L921.4 338.2 L946.7 359.7 L972.1 382.5 L1002.5 409.8 L1042.1 450.0 L1060.7 467.4 L1063.6 478.3 L1080.9 491.3 L1117.6 519.9 L1129.4 529.6 L1168.6 562.9 L1181.8 575.0 L1206.7 596.2 L1221.2 607.8 L1223.3 613.5 L1225.3 629.7 L1228.0 639.6 L1229.7 642.7 L1277.2 665.7 L1278.1 666.1 L1340.0 697.7 L1411.4 738.1 L1438.0 752.9 L1468.4 770.0 L1500.8 785.9 L1510.0 790.4" stroke="#ff0000" stroke-width="4.4"/>
</g>
<rect x="204.4" y="46.1" width="1298.2" height="793.5" fill="none" stroke="#000" stroke-width="4.5"/>
<g stroke="#000" fill="none">
<path d="M912.2 450.15 H1278.2" stroke-width="4.75" stroke-dasharray="4.9 4.75"/>
<path d="M1278.15 451.1 V706.1" stroke-width="4.4" stroke-dasharray="4.9 4.73"/>
<path d="M910.25 704.5 H1279.7" stroke-width="4.75" stroke-dasharray="4.9 4.7"/>
<path d="M912.7 705.95 V452" stroke-width="4.4" stroke-dasharray="4.9 4.72"/>
</g>
<path d="M847.8 437 L912.4 449.9 M846.8 770 L911.7 705" stroke="#000" stroke-width="2.1" fill="none"/>
<rect x="299.4" y="423.2" width="573.9" height="336.1" fill="#fff"/>
<path d="M847.8 437 L912.4 449.9 M846.8 770 L911.7 705" stroke="#000" stroke-width="2.1" fill="none"/>
<g stroke="#000" stroke-width="4.5" fill="none">
<path d="M339.9 759.3 v-26.8 M339.9 423.2 v26.8"/>
<path d="M606.6 759.3 v-13.5 M606.6 423.2 v13.5"/>
<path d="M762.6 759.3 v-13.5 M762.6 423.2 v13.5"/>
<path d="M299.4 749.2 h13.5 M873.2 749.2 h-13.5"/>
<path d="M299.4 740.1 h26.8 M873.2 740.1 h-26.8"/>
<path d="M299.4 680.6 h13.5 M873.2 680.6 h-13.5"/>
<path d="M299.4 645.7 h13.5 M873.2 645.7 h-13.5"/>
<path d="M299.4 621.0 h13.5 M873.2 621.0 h-13.5"/>
<path d="M299.4 601.9 h13.5 M873.2 601.9 h-13.5"/>
<path d="M299.4 586.2 h13.5 M873.2 586.2 h-13.5"/>
<path d="M299.4 572.9 h13.5 M873.2 572.9 h-13.5"/>
<path d="M299.4 561.5 h13.5 M873.2 561.5 h-13.5"/>
<path d="M299.4 551.4 h13.5 M873.2 551.4 h-13.5"/>
<path d="M299.4 542.3 h26.8 M873.2 542.3 h-26.8"/>
<path d="M299.4 482.8 h13.5 M873.2 482.8 h-13.5"/>
<path d="M299.4 447.9 h13.5 M873.2 447.9 h-13.5"/>
</g>
<g clip-path="url(#ci)" fill="none" stroke-linejoin="miter">
<path d="M-812.5 -91.0 L-795.4 -91.0 L-778.2 -90.8 L-761.0 -90.6 L-743.8 -90.2 L-726.6 -89.8 L-709.4 -89.3 L-692.2 -88.8 L-675.0 -88.3 L-657.8 -87.7 L-640.6 -86.9 L-623.4 -85.9 L-606.3 -84.8 L-589.1 -83.5 L-571.9 -82.2 L-554.7 -80.9 L-537.5 -79.5 L-520.3 -78.1 L-503.1 -76.5 L-485.9 -74.9 L-468.7 -73.2 L-451.5 -71.3 L-434.3 -69.3 L-417.1 -67.1 L-400.0 -64.8 L-382.8 -62.1 L-365.6 -59.0 L-348.4 -55.7 L-331.2 -52.0 L-314.0 -48.2 L-296.8 -44.1 L-279.6 -39.8 L-262.4 -35.2 L-245.2 -30.3 L-228.0 -25.0 L-210.9 -19.4 L-193.7 -13.5 L-176.5 -7.3 L-159.3 -0.8 L-142.1 5.9 L-124.9 12.9 L-107.7 20.4 L-90.5 28.5 L-73.3 37.0 L-56.1 46.1 L-38.9 55.8 L-21.7 65.9 L-4.6 76.4 L12.6 88.1 L29.8 101.3 L47.0 116.4 L64.2 133.3 L81.4 150.2 L98.6 166.5 L115.8 182.9 L133.0 199.2 L150.2 215.3 L167.4 231.2 L184.5 246.7 L201.7 261.8 L203.8 276.9 L297.3 369.9 L357.0 423.1 L403.8 470.0 L415.2 482.2 L421.3 491.3 L426.6 496.6 L433.5 501.2 L445.6 514.9 L457.0 527.8 L463.5 538.0 L477.3 570.9 L489.9 578.7 L501.3 590.8 L528.7 619.7 L544.6 643.2 L552.9 657.5 L562.8 674.2 L576.5 684.9 L591.7 702.4 L597.8 711.9 L607.1 723.6 L629.9 757.8 L642.0 772.2 L653.9 792.3 L659.9 807.4 L670.3 825.0 L689.7 860.2 L716.6 875.3 L746.4 892.9 L767.3 908.0 L812.0 935.6 L826.0 945.1" stroke="#000000" stroke-width="4.4"/>
<path transform="scale(1 1.0)" d="M-812.5 -84.7 L-793.3 -84.6 L-774.0 -84.4 L-754.7 -84.1 L-735.4 -83.6 L-716.1 -83.1 L-696.8 -82.5 L-677.6 -81.9 L-658.3 -81.2 L-639.0 -80.4 L-619.7 -79.3 L-600.4 -78.1 L-581.2 -76.7 L-561.9 -75.2 L-542.6 -73.6 L-523.3 -71.8 L-504.0 -69.8 L-484.7 -67.7 L-465.5 -65.5 L-446.2 -63.0 L-426.9 -60.5 L-407.6 -57.8 L-388.3 -54.8 L-369.0 -51.6 L-349.8 -48.0 L-330.5 -44.2 L-311.2 -40.1 L-291.9 -35.7 L-272.6 -31.0 L-253.3 -26.0 L-234.1 -20.7 L-214.8 -14.9 L-195.5 -8.8 L-176.2 -2.3 L-156.9 4.5 L-137.6 11.7 L-118.4 19.2 L-99.1 27.5 L-79.8 36.5 L-60.5 46.1 L-41.2 56.4 L-21.9 67.3 L-2.7 78.9 L16.6 92.1 L35.9 106.7 L55.2 123.1 L74.5 140.2 L93.7 157.1 L113.0 173.2 L132.3 189.2 L151.6 205.4 L170.9 222.5 L190.2 240.9 L209.4 259.8 L228.7 277.7 L248.0 295.5 L267.3 314.0 L286.6 332.8 L305.9 351.4 L325.1 369.9 L369.3 423.1 L404.2 456.0 L425.0 475.6 L450.5 498.1 L477.9 524.7 L491.6 538.4 L502.8 547.1 L515.7 558.5 L529.4 569.5 L534.8 575.6 L536.7 589.3 L540.1 605.2 L543.1 615.1 L548.4 618.5 L559.1 617.8 L575.1 621.9 L583.0 625.0 L598.3 643.2 L613.0 654.4 L625.2 668.9 L641.1 681.8 L654.8 692.5 L669.9 707.5 L683.6 721.9 L696.5 735.6 L713.2 745.5 L730.0 754.6 L738.0 759.3 L748.6 766.4 L771.8 782.0 L795.1 798.0 L817.8 814.1 L840.5 829.7 L871.7 852.7 L916.6 890.4 L954.8 925.5 L970.9 939.8" stroke="#000000" stroke-width="8.8" stroke-dasharray="14.5 4.8" stroke-dashoffset="0"/>
<path d="M-812.5 -83.2 L-793.2 -83.1 L-773.9 -82.9 L-754.6 -82.5 L-735.3 -82.1 L-716.0 -81.5 L-696.7 -80.9 L-677.4 -80.3 L-658.1 -79.6 L-638.8 -78.8 L-619.5 -77.8 L-600.2 -76.6 L-580.9 -75.3 L-561.6 -73.9 L-542.3 -72.3 L-523.0 -70.6 L-503.8 -68.8 L-484.5 -66.7 L-465.2 -64.5 L-445.9 -62.2 L-426.6 -59.7 L-407.3 -57.1 L-388.0 -54.2 L-368.7 -50.9 L-349.4 -47.3 L-330.1 -43.5 L-310.8 -39.3 L-291.5 -34.9 L-272.2 -30.3 L-252.9 -25.2 L-233.6 -19.8 L-214.3 -14.1 L-195.0 -7.9 L-175.7 -1.4 L-156.4 5.4 L-137.1 12.6 L-117.8 20.1 L-98.5 28.3 L-79.2 37.2 L-59.9 46.8 L-40.6 57.0 L-21.3 67.8 L-2.0 79.3 L17.3 92.6 L36.6 107.3 L55.9 123.5 L75.2 140.5 L94.5 157.1 L113.8 172.9 L133.1 188.6 L152.4 204.6 L171.7 221.5 L191.0 239.9 L210.3 258.9 L229.6 276.8 L248.9 294.6 L268.2 313.1 L287.5 331.9 L306.8 350.8 L326.1 369.9 L371.0 423.1 L438.0 482.9 L454.8 497.8 L464.6 508.0 L476.0 521.7 L483.7 530.1 L493.5 541.9 L499.0 552.8 L502.1 575.6 L504.3 590.0 L508.9 625.7 L543.9 641.7 L570.4 656.7 L600.8 671.9 L631.3 686.4 L660.0 700.8 L682.8 712.8 L713.2 728.0 L736.0 739.4 L758.9 754.6 L768.0 759.3 L767.6 759.3 L815.5 785.4 L851.3 804.6 L860.5 812.7 L881.3 821.8 L947.1 859.6 L1006.7 894.7 L1075.3 934.9 L1083.5 939.8" stroke="#a0a0a0" stroke-width="4.4"/>
<path transform="scale(1 1.0)" d="M-812.5 -72.5 L-793.2 -72.4 L-773.8 -72.1 L-754.5 -71.8 L-735.1 -71.3 L-715.8 -70.8 L-696.4 -70.2 L-677.1 -69.6 L-657.7 -68.9 L-638.4 -68.1 L-619.0 -67.1 L-599.7 -66.0 L-580.3 -64.7 L-561.0 -63.5 L-541.6 -62.2 L-522.3 -60.8 L-502.9 -59.4 L-483.6 -57.8 L-464.2 -56.2 L-444.9 -54.4 L-425.5 -52.4 L-406.2 -50.3 L-386.8 -47.8 L-367.5 -44.9 L-348.1 -41.7 L-328.8 -38.1 L-309.4 -34.3 L-290.1 -30.3 L-270.7 -26.0 L-251.4 -21.4 L-232.0 -16.3 L-212.7 -10.9 L-193.3 -5.2 L-174.0 1.0 L-154.6 7.5 L-135.3 14.3 L-115.9 21.6 L-96.6 29.7 L-77.2 38.5 L-57.9 48.0 L-38.5 58.2 L-19.2 69.1 L0.2 80.7 L19.5 94.3 L38.9 109.0 L58.2 125.0 L77.6 141.5 L96.9 157.6 L116.3 172.9 L135.6 188.1 L155.0 203.7 L174.3 220.4 L193.7 238.8 L213.0 257.9 L232.4 275.8 L251.7 293.7 L271.1 312.2 L290.4 331.0 L309.8 350.3 L329.1 369.9 L376.0 423.1 L436.5 475.3 L451.7 488.3 L466.9 500.4 L481.4 512.6 L510.0 534.6 L542.7 565.1 L550.3 574.6 L553.0 579.4 L556.0 590.0 L558.3 605.2 L561.4 618.9 L565.9 632.6 L570.5 638.7 L581.8 645.3 L598.9 653.3 L616.0 661.7 L633.5 670.8 L651.0 679.9 L684.3 697.2 L701.4 706.3 L718.6 715.9 L736.0 725.0 L752.8 734.1 L769.5 743.2 L787.5 750.9 L800.4 756.3 L806.0 759.3 L829.1 774.5 L853.6 787.4 L931.5 827.7 L976.9 854.6 L1036.6 889.7 L1083.8 912.4 L1108.8 926.6 L1129.0 937.8 L1136.9 942.4" stroke="#a0a0a0" stroke-width="8.8" stroke-dasharray="14.5 4.8" stroke-dashoffset="0"/>
<path d="M-812.5 -28.7 L-791.8 -28.5 L-771.1 -28.3 L-750.3 -28.1 L-729.6 -27.7 L-708.9 -27.3 L-688.1 -26.8 L-667.4 -26.3 L-646.6 -25.8 L-625.9 -25.2 L-605.2 -24.6 L-584.4 -24.0 L-563.7 -23.4 L-542.9 -22.7 L-522.2 -21.9 L-501.5 -21.0 L-480.7 -20.0 L-460.0 -18.9 L-439.3 -17.6 L-418.5 -16.3 L-397.8 -14.6 L-377.0 -12.4 L-356.3 -9.6 L-335.6 -6.5 L-314.8 -3.3 L-294.1 -0.2 L-273.4 2.6 L-252.6 5.6 L-231.9 9.3 L-211.1 13.6 L-190.4 18.4 L-169.7 23.5 L-148.9 29.1 L-128.2 35.1 L-107.4 41.5 L-86.7 48.8 L-66.0 56.8 L-45.2 65.3 L-24.5 74.3 L-3.8 83.6 L17.0 93.9 L37.7 105.2 L58.5 117.0 L79.2 129.9 L99.9 144.3 L120.7 160.6 L141.4 178.3 L162.1 196.7 L182.9 215.3 L203.6 233.3 L224.4 250.7 L245.1 268.1 L265.8 285.5 L286.6 303.5 L307.3 322.0 L328.1 340.1 L348.8 358.4 L369.5 378.6 L390.3 400.2 L411.0 423.2 L411.1 423.1 L438.9 447.3 L460.0 463.6 L489.7 489.0 L504.6 500.6 L518.3 518.0 L531.9 530.2 L547.1 542.4 L563.7 555.1 L577.3 566.5 L581.1 583.2 L584.9 601.5 L589.9 626.5 L592.5 634.0 L600.5 636.5 L618.0 644.0 L635.5 652.4 L653.3 662.5 L704.9 688.5 L757.3 712.1 L809.5 737.3 L851.0 756.0 L858.0 759.5 L907.7 774.6 L984.1 811.6 L1064.7 848.6 L1118.4 875.0 L1147.9 890.9 L1222.9 924.6 L1237.4 930.6" stroke="#00c8c8" stroke-width="4.4"/>
<path transform="scale(1 1.0)" d="M-787.3 -21.5 L-766.8 -21.4 L-746.3 -21.2 L-725.8 -20.9 L-705.4 -20.5 L-684.9 -20.1 L-664.4 -19.6 L-643.9 -19.0 L-623.4 -18.4 L-603.0 -17.8 L-582.5 -17.2 L-562.0 -16.6 L-541.5 -15.8 L-521.1 -15.0 L-500.6 -14.1 L-480.1 -13.0 L-459.6 -11.8 L-439.2 -10.6 L-418.7 -9.1 L-398.2 -7.5 L-377.7 -5.4 L-357.2 -3.0 L-336.8 -0.2 L-316.3 2.6 L-295.8 5.4 L-275.3 8.0 L-254.9 10.8 L-234.4 14.3 L-213.9 18.5 L-193.4 23.2 L-172.9 28.4 L-152.5 33.8 L-132.0 39.5 L-111.5 45.5 L-91.0 51.9 L-70.6 58.9 L-50.1 66.3 L-29.6 74.2 L-9.1 82.6 L11.4 92.0 L31.8 102.6 L52.3 113.7 L72.8 125.7 L93.3 139.0 L113.7 154.1 L134.2 170.7 L154.7 188.2 L175.2 206.2 L195.6 224.0 L216.1 241.3 L236.6 258.5 L257.1 275.6 L277.6 293.0 L298.0 311.1 L318.5 329.3 L339.0 347.6 L359.5 365.2 L379.9 382.2 L400.4 401.4 L420.9 423.2 L421.0 423.1 L441.5 438.6 L455.0 450.0 L480.0 470.5 L500.0 492.0 L512.5 501.0 L526.0 513.5 L539.3 526.7 L552.2 538.4 L572.0 553.5 L583.0 562.5 L586.8 569.5 L592.9 593.8 L596.0 609.8 L599.8 628.0 L601.3 634.1 L610.4 644.3 L627.5 652.5 L646.5 660.9 L734.5 699.4 L752.0 707.8 L769.5 716.2 L785.2 723.9 L803.5 732.3 L820.2 741.4 L837.7 750.5 L855.0 759.3 L876.2 763.4 L907.7 775.9 L955.4 799.1 L1003.1 822.2 L1064.7 854.6 L1112.4 876.6 L1148.2 890.4 L1184.0 904.4 L1222.9 922.5 L1237.4 929.2" stroke="#008040" stroke-width="8.8" stroke-dasharray="14.5 4.8" stroke-dashoffset="0"/>
<path d="M-812.5 -34.3 L-791.8 -34.3 L-771.1 -34.1 L-750.3 -33.9 L-729.6 -33.5 L-708.9 -33.1 L-688.1 -32.7 L-667.4 -32.1 L-646.6 -31.5 L-625.9 -30.9 L-605.2 -30.2 L-584.4 -29.5 L-563.7 -28.8 L-542.9 -27.8 L-522.2 -26.6 L-501.5 -25.2 L-480.7 -23.6 L-460.0 -21.8 L-439.3 -19.9 L-418.5 -18.0 L-397.8 -15.8 L-377.0 -13.3 L-356.3 -10.5 L-335.6 -7.4 L-314.8 -4.2 L-294.1 -1.1 L-273.4 1.9 L-252.6 5.1 L-231.9 9.0 L-211.1 13.3 L-190.4 18.2 L-169.7 23.4 L-148.9 29.1 L-128.2 35.0 L-107.4 41.6 L-86.7 48.9 L-66.0 56.9 L-45.2 65.4 L-24.5 74.3 L-3.8 83.6 L17.0 93.9 L37.7 105.2 L58.5 117.0 L79.2 129.9 L99.9 144.3 L120.7 160.6 L141.4 178.3 L162.1 196.7 L182.9 215.3 L203.6 233.3 L224.4 250.7 L245.1 268.1 L265.8 285.5 L286.6 303.5 L307.3 322.0 L328.1 340.1 L348.8 358.4 L369.5 378.6 L390.3 400.2 L411.0 423.2 L410.6 423.8 L415.5 430.1 L438.4 448.0 L459.5 464.3 L489.2 489.7 L504.1 500.5 L518.5 512.6 L533.7 526.3 L548.2 537.7 L557.8 546.7 L559.1 552.8 L562.9 565.7 L567.5 590.0 L568.2 612.1 L580.0 615.9 L610.4 629.5 L640.8 644.0 L656.0 650.8 L678.9 662.0 L731.5 690.0 L760.0 701.1 L781.4 711.4 L853.7 747.1 L871.1 753.2 L873.3 754.2 L907.7 772.0 L955.4 795.1 L1003.1 818.2 L1064.7 850.6 L1112.4 872.7 L1148.2 886.4 L1184.0 900.4 L1222.9 918.5 L1237.4 925.3" stroke="#008040" stroke-width="4.4"/>
<path d="M-779.1 -1.0 L-762.3 -0.8 L-745.6 -0.6 L-728.8 -0.3 L-712.1 -0.1 L-695.3 0.2 L-678.5 0.5 L-661.8 0.8 L-645.0 1.1 L-628.3 1.5 L-611.5 1.8 L-594.7 2.2 L-578.0 2.7 L-561.2 3.1 L-544.5 3.6 L-527.7 4.1 L-510.9 4.7 L-494.2 5.3 L-477.4 5.9 L-460.7 6.6 L-443.9 7.4 L-427.1 8.3 L-410.4 9.2 L-393.6 10.3 L-376.9 11.8 L-360.1 13.6 L-343.3 15.5 L-326.6 17.5 L-309.8 19.6 L-293.1 21.7 L-276.3 23.8 L-259.5 25.9 L-242.8 28.5 L-226.0 31.2 L-209.3 34.1 L-192.5 37.2 L-175.8 40.5 L-159.0 43.9 L-142.2 47.6 L-125.5 51.4 L-108.7 55.4 L-92.0 59.7 L-75.2 64.3 L-58.4 69.2 L-41.7 74.4 L-24.9 80.0 L-8.2 85.9 L8.6 92.8 L25.4 100.7 L42.1 108.9 L58.9 117.4 L75.6 126.5 L92.4 136.3 L109.2 146.7 L125.9 157.6 L142.7 169.1 L159.4 181.1 L176.2 193.8 L193.0 207.0 L209.7 220.8 L213.7 228.4 L273.4 278.6 L353.0 343.9 L384.8 369.9 L451.0 423.1 L452.9 425.2 L460.9 432.8 L466.6 446.1 L508.4 478.1 L530.4 500.5 L562.4 521.8 L580.0 538.3 L610.4 564.2 L639.3 587.8 L640.1 588.5 L644.6 612.8 L648.4 628.0 L651.5 638.7 L657.6 650.1 L671.3 654.6 L690.4 662.0 L760.0 697.3 L775.2 704.1 L805.6 718.6 L836.0 731.5 L871.1 748.7 L873.3 749.8 L907.7 767.3 L925.4 773.3 L955.4 789.5 L1003.1 812.7 L1051.0 834.7 L1064.7 844.5 L1118.4 870.7 L1130.3 878.7 L1136.3 894.7 L1141.1 899.1 L1222.9 933.6 L1237.4 939.8" stroke="#c000ff" stroke-width="4.4"/>
<path d="M-724.5 31.2 L-707.4 31.4 L-690.4 31.7 L-673.3 32.0 L-656.3 32.2 L-639.2 32.5 L-622.2 32.8 L-605.1 33.1 L-588.1 33.5 L-571.0 33.8 L-554.0 34.1 L-536.9 34.5 L-519.9 34.8 L-502.8 35.1 L-485.8 35.5 L-468.7 35.8 L-451.7 36.3 L-434.6 36.8 L-417.6 37.4 L-400.6 38.1 L-383.5 39.1 L-366.5 40.5 L-349.4 42.1 L-332.4 43.8 L-315.3 45.7 L-298.3 47.5 L-281.2 49.4 L-264.2 51.2 L-247.1 53.1 L-230.1 55.1 L-213.0 57.1 L-196.0 59.3 L-178.9 61.6 L-161.9 64.1 L-144.8 66.8 L-127.8 69.7 L-110.7 73.0 L-93.7 76.9 L-76.6 81.2 L-59.6 86.0 L-42.5 91.0 L-25.5 96.3 L-8.5 101.7 L8.6 107.7 L25.6 114.3 L42.7 121.2 L59.7 128.2 L76.8 135.4 L93.8 143.1 L110.9 151.4 L127.9 160.3 L145.0 170.1 L162.0 180.6 L179.1 191.8 L196.1 203.7 L213.2 216.4 L230.2 231.3 L247.3 247.1 L264.3 258.5 L281.4 266.9 L289.3 273.6 L353.0 325.5 L410.7 369.9 L477.8 423.1 L506.2 446.9 L511.1 459.8 L537.3 478.3 L599.7 528.3 L639.2 560.2 L642.3 564.8 L657.5 575.4 L670.6 588.5 L698.0 609.8 L701.4 618.9 L704.5 632.6 L709.0 650.8 L711.3 662.0 L717.4 674.1 L726.9 678.9 L742.1 683.7 L780.1 698.9 L813.2 714.8 L836.0 725.4 L871.1 742.6 L873.3 743.6 L937.3 769.6 L955.4 775.7 L1027.0 806.3 L1064.7 824.2 L1112.4 845.2 L1160.1 867.4 L1179.3 874.0 L1222.9 892.1 L1237.4 898.2" stroke="#ffa500" stroke-width="4.4"/>
<path transform="scale(1 1.0)" d="M-812.5 -28.7 L-791.7 -28.5 L-770.8 -28.3 L-750.0 -28.0 L-729.1 -27.7 L-708.2 -27.3 L-687.4 -26.8 L-666.5 -26.3 L-645.6 -25.8 L-624.8 -25.2 L-603.9 -24.6 L-583.0 -24.0 L-562.2 -23.3 L-541.3 -22.6 L-520.5 -21.8 L-499.6 -20.9 L-478.7 -19.9 L-457.9 -18.8 L-437.0 -17.5 L-416.1 -16.1 L-395.3 -14.4 L-374.4 -12.0 L-353.5 -9.2 L-332.7 -6.1 L-311.8 -2.9 L-291.0 0.2 L-270.1 3.0 L-249.2 6.2 L-228.4 10.0 L-207.5 14.4 L-186.6 19.3 L-165.8 24.6 L-144.9 30.2 L-124.0 36.3 L-103.2 43.0 L-82.3 50.5 L-61.5 58.6 L-40.6 67.3 L-19.7 76.4 L1.1 85.9 L22.0 96.6 L42.9 108.1 L63.7 120.2 L84.6 133.5 L105.4 148.5 L126.3 165.3 L147.2 183.4 L168.0 202.0 L188.9 220.6 L209.8 238.5 L230.6 256.0 L251.5 273.5 L272.4 291.1 L293.2 309.4 L314.1 328.0 L334.9 346.5 L355.8 364.8 L376.7 382.8 L397.5 402.3 L418.4 423.2 L418.5 423.1 L439.8 440.1 L453.6 451.5 L478.8 471.0 L500.4 495.9 L512.2 505.1 L525.9 520.3 L539.3 535.3 L552.2 547.5 L556.8 555.1 L556.4 566.5 L559.8 585.5 L564.4 601.4 L565.9 612.8 L568.2 628.0 L571.3 631.1 L582.7 633.3 L600.5 639.4 L618.0 647.0 L635.5 655.4 L653.3 665.5 L704.9 691.5 L722.4 698.4 L739.8 706.7 L757.3 715.1 L774.1 723.5 L792.8 731.9 L809.5 740.3 L827.0 748.7 L843.0 755.5 L851.0 759.3 L859.6 763.8 L886.0 774.9 L939.4 801.0 L966.2 813.6 L992.4 826.1 L1070.6 865.3 L1096.4 877.3 L1100.5 879.3 L1112.4 904.4 L1133.9 909.4 L1160.8 921.0 L1187.6 930.6 L1206.0 938.5 L1213.8 942.4" stroke="#c000ff" stroke-width="8.8" stroke-dasharray="14.5 4.8" stroke-dashoffset="10.6"/>
<path transform="scale(1 1.0)" d="M-706.6 35.4 L-689.8 35.6 L-673.0 35.8 L-656.2 36.1 L-639.5 36.3 L-622.7 36.6 L-605.9 36.9 L-589.1 37.3 L-572.3 37.6 L-555.6 38.0 L-538.8 38.4 L-522.0 38.8 L-505.2 39.2 L-488.4 39.7 L-471.7 40.2 L-454.9 40.8 L-438.1 41.5 L-421.3 42.2 L-404.6 42.9 L-387.8 43.9 L-371.0 45.0 L-354.2 46.3 L-337.4 47.8 L-320.7 49.3 L-303.9 50.9 L-287.1 52.6 L-270.3 54.3 L-253.6 56.1 L-236.8 58.0 L-220.0 60.0 L-203.2 62.1 L-186.4 64.4 L-169.7 66.8 L-152.9 69.3 L-136.1 72.1 L-119.3 75.1 L-102.5 78.4 L-85.8 82.2 L-69.0 86.3 L-52.2 90.7 L-35.4 95.4 L-18.7 100.4 L-1.9 105.6 L14.9 111.6 L31.7 118.2 L48.5 124.8 L65.2 131.5 L82.0 138.5 L98.8 145.9 L115.6 153.8 L132.3 162.5 L149.1 171.9 L165.9 181.9 L182.7 192.7 L199.5 204.2 L216.2 216.4 L233.0 231.3 L249.8 246.8 L266.6 257.6 L283.4 265.2 L291.3 271.9 L355.0 323.8 L412.7 368.2 L480.0 423.1 L522.9 456.8 L525.2 467.0 L546.8 482.3 L611.7 534.7 L623.3 543.6 L637.7 556.5 L651.4 569.5 L666.6 580.9 L682.6 593.0 L700.3 607.5 L704.9 615.1 L707.1 626.5 L710.2 638.7 L713.2 650.8 L716.0 662.0 L725.0 668.0 L742.0 674.0 L772.2 685.1 L813.2 704.9 L835.4 714.8 L852.9 723.2 L869.6 730.0 L873.3 731.7 L902.0 742.1 L928.4 754.3 L955.2 767.3 L973.3 777.2 L1025.9 802.1 L1071.9 826.0 L1124.3 850.2 L1176.9 875.3 L1190.0 881.7 L1196.1 894.7 L1204.4 902.4 L1222.9 912.4 L1237.4 920.0" stroke="#ffa500" stroke-width="8.8" stroke-dasharray="14.5 4.8" stroke-dashoffset="0"/>
<path transform="scale(1 1.0)" d="M-681.6 68.9 L-665.1 68.9 L-648.6 69.0 L-632.0 69.2 L-615.5 69.4 L-599.0 69.6 L-582.5 69.8 L-565.9 70.1 L-549.4 70.4 L-532.9 70.6 L-516.4 71.0 L-499.8 71.3 L-483.3 71.7 L-466.8 72.2 L-450.3 72.8 L-433.7 73.4 L-417.2 74.0 L-400.7 74.6 L-384.2 75.3 L-367.6 76.0 L-351.1 76.8 L-334.6 77.6 L-318.1 78.5 L-301.6 79.5 L-285.0 80.5 L-268.5 81.6 L-252.0 82.8 L-235.5 84.0 L-218.9 85.3 L-202.4 86.6 L-185.9 88.1 L-169.4 89.7 L-152.8 91.5 L-136.3 93.4 L-119.8 95.5 L-103.3 98.1 L-86.7 101.2 L-70.2 104.7 L-53.7 108.5 L-37.2 112.5 L-20.6 116.8 L-4.1 121.2 L12.4 125.7 L28.9 130.1 L45.4 134.6 L62.0 139.2 L78.5 144.1 L95.0 149.5 L111.5 155.4 L128.1 162.2 L144.6 170.5 L161.1 179.9 L177.6 190.0 L194.2 200.2 L210.7 209.9 L227.2 218.9 L243.7 227.7 L260.3 237.5 L276.8 248.4 L293.3 260.2 L305.2 265.2 L315.2 273.6 L353.0 302.1 L392.8 332.2 L442.6 369.9 L507.8 423.1 L545.4 450.7 L553.2 456.0 L560.1 471.6 L577.0 483.5 L611.6 504.5 L640.0 525.5 L701.3 569.5 L722.1 585.4 L764.6 614.5 L780.6 625.2 L793.5 634.3 L794.2 641.1 L795.7 651.7 L798.0 666.9 L804.9 676.3 L824.7 684.8 L860.5 700.8 L873.3 706.5 L886.0 712.1 L913.5 723.2 L939.7 734.2 L967.2 747.1 L1003.1 764.7 L1074.9 798.1 L1100.5 808.2 L1126.7 819.0 L1153.1 831.0 L1172.1 840.0 L1178.0 848.5 L1196.1 860.0 L1222.9 872.0 L1237.4 878.5" stroke="#ff0000" stroke-width="8.8" stroke-dasharray="14.5 4.8" stroke-dashoffset="0"/>
<path d="M-688.7 58.8 L-672.1 58.9 L-655.4 59.0 L-638.8 59.1 L-622.2 59.3 L-605.6 59.5 L-589.0 59.7 L-572.4 60.0 L-555.8 60.3 L-539.2 60.6 L-522.6 60.9 L-506.0 61.3 L-489.3 61.7 L-472.7 62.2 L-456.1 62.7 L-439.5 63.4 L-422.9 64.0 L-406.3 64.7 L-389.7 65.5 L-373.1 66.3 L-356.5 67.3 L-339.9 68.4 L-323.2 69.6 L-306.6 70.8 L-290.0 72.1 L-273.4 73.4 L-256.8 74.6 L-240.2 75.8 L-223.6 77.1 L-207.0 78.4 L-190.4 79.8 L-173.8 81.3 L-157.2 83.0 L-140.5 84.8 L-123.9 86.9 L-107.3 89.4 L-90.7 92.4 L-74.1 95.9 L-57.5 99.7 L-40.9 103.9 L-24.3 108.3 L-7.7 112.9 L8.9 117.7 L25.6 122.5 L42.2 127.4 L58.8 132.6 L75.4 138.2 L92.0 144.3 L108.6 151.1 L125.2 158.5 L141.8 167.7 L158.4 178.3 L175.0 189.5 L191.7 200.7 L208.3 211.3 L224.9 220.5 L241.5 229.3 L258.1 239.1 L274.7 250.0 L291.3 261.9 L303.3 268.6 L313.2 275.3 L353.0 303.7 L392.8 333.9 L440.6 369.9 L502.7 423.1 L532.0 446.1 L536.5 460.5 L563.6 477.7 L621.2 515.4 L639.8 528.2 L701.3 572.3 L722.1 588.2 L761.2 616.3 L784.0 631.6 L787.3 639.2 L790.3 660.5 L794.6 673.7 L797.3 677.7 L871.9 708.1 L873.3 708.7 L970.5 750.4 L1082.6 803.8 L1124.3 823.4 L1172.1 846.0 L1222.9 867.0 L1237.4 872.9" stroke="#ff0000" stroke-width="4.4"/>
<path transform="scale(1 1.0)" d="M-812.5 -28.7 L-791.7 -28.5 L-770.8 -28.3 L-750.0 -28.0 L-729.1 -27.7 L-708.2 -27.3 L-687.4 -26.8 L-666.5 -26.3 L-645.6 -25.8 L-624.8 -25.2 L-603.9 -24.6 L-583.0 -24.0 L-562.2 -23.3 L-541.3 -22.6 L-520.5 -21.8 L-499.6 -20.9 L-478.7 -19.9 L-457.9 -18.8 L-437.0 -17.5 L-416.1 -16.1 L-395.3 -14.4 L-374.4 -12.0 L-353.5 -9.2 L-332.7 -6.1 L-311.8 -2.9 L-291.0 0.2 L-270.1 3.0 L-249.2 6.2 L-228.4 10.0 L-207.5 14.4 L-186.6 19.3 L-165.8 24.6 L-144.9 30.2 L-124.0 36.3 L-103.2 43.0 L-82.3 50.5 L-61.5 58.6 L-40.6 67.3 L-19.7 76.4 L1.1 85.9 L22.0 96.6 L42.9 108.1 L63.7 120.2 L84.6 133.5 L105.4 148.5 L126.3 165.3 L147.2 183.4 L168.0 202.0 L188.9 220.6 L209.8 238.5 L230.6 256.0 L251.5 273.5 L272.4 291.1 L293.2 309.4 L314.1 328.0 L334.9 346.5 L355.8 364.8 L376.7 382.8 L397.5 402.3 L418.4 423.2 L418.5 423.1 L439.8 440.1 L453.6 451.5 L483.6 475.3 L498.1 487.5 L514.4 497.5 L529.7 509.7 L543.3 521.8 L557.8 534.0 L572.2 546.2 L587.6 559.7 L601.3 573.3 L616.5 584.8 L632.5 595.3 L648.4 606.3 L656.8 612.8 L662.1 634.1 L667.5 638.7 L684.2 647.8 L701.1 656.9 L761.1 691.3 L780.1 700.8 L787.7 710.3 L799.1 717.9 L823.2 735.7 L853.7 751.7 L861.3 757.0 L866.0 759.3 L870.0 774.6 L884.1 785.2 L907.7 799.6 L943.5 816.6 L979.2 833.7 L1064.7 879.7 L1087.3 895.9 L1111.8 910.5 L1136.3 925.0 L1155.7 935.8 L1162.0 941.1" stroke="#0080ff" stroke-width="8.8" stroke-dasharray="14.5 4.8" stroke-dashoffset="0"/>
<path d="M-797.0 -11.1 L-776.2 -10.8 L-755.3 -10.5 L-734.5 -10.2 L-713.7 -9.8 L-692.9 -9.4 L-672.0 -9.0 L-651.2 -8.6 L-630.4 -8.1 L-609.5 -7.6 L-588.7 -7.1 L-567.9 -6.4 L-547.1 -5.7 L-526.2 -4.8 L-505.4 -3.9 L-484.6 -2.8 L-463.7 -1.6 L-442.9 -0.3 L-422.1 1.1 L-401.3 2.6 L-380.4 4.6 L-359.6 6.9 L-338.8 9.5 L-317.9 12.2 L-297.1 14.9 L-276.3 17.4 L-255.5 19.9 L-234.6 23.3 L-213.8 27.2 L-193.0 31.6 L-172.1 36.4 L-151.3 41.5 L-130.5 46.7 L-109.7 52.1 L-88.8 57.8 L-68.0 63.9 L-47.2 70.4 L-26.3 77.6 L-5.5 85.4 L15.3 94.8 L36.1 105.4 L57.0 116.5 L77.8 128.4 L98.6 141.9 L119.5 157.2 L140.3 173.9 L161.1 191.5 L181.9 209.5 L202.8 227.5 L223.6 245.5 L244.4 263.5 L265.3 280.9 L286.1 298.8 L306.9 317.2 L327.7 335.7 L348.6 354.2 L369.4 372.1 L390.2 389.6 L411.1 406.6 L431.9 423.2 L432.0 423.1 L440.0 434.0 L465.9 453.0 L504.6 480.0 L530.4 499.0 L562.4 520.3 L580.0 536.8 L610.4 562.7 L639.3 586.3 L662.1 601.9 L701.1 629.5 L736.0 654.6 L742.1 660.8 L747.8 672.2 L755.4 683.7 L780.1 698.9 L789.6 708.4 L799.1 714.1 L823.2 733.0 L853.7 749.0 L866.0 756.0 L869.5 759.3 L872.3 772.0 L884.1 782.5 L907.7 797.1 L979.2 831.4 L1064.7 877.7 L1136.3 922.6 L1162.0 939.8" stroke="#0080ff" stroke-width="4.4"/>
<path transform="scale(1 1.0)" d="M-812.5 -43.1 L-792.2 -43.0 L-771.9 -42.9 L-751.5 -42.7 L-731.2 -42.4 L-710.8 -41.9 L-690.5 -41.3 L-670.2 -40.6 L-649.8 -39.9 L-629.5 -39.1 L-609.2 -38.2 L-588.8 -37.3 L-568.5 -36.5 L-548.1 -35.6 L-527.8 -34.6 L-507.5 -33.6 L-487.1 -32.4 L-466.8 -31.2 L-446.4 -29.8 L-426.1 -28.2 L-405.8 -26.5 L-385.4 -24.4 L-365.1 -21.9 L-344.7 -19.0 L-324.4 -15.8 L-304.1 -12.4 L-283.7 -8.8 L-263.4 -4.9 L-243.0 -0.7 L-222.7 3.9 L-202.4 8.9 L-182.0 14.1 L-161.7 19.7 L-141.3 25.6 L-121.0 31.8 L-100.7 38.6 L-80.3 45.9 L-60.0 53.9 L-39.6 62.6 L-19.3 72.0 L1.0 82.4 L21.4 95.3 L41.7 108.2 L62.0 121.0 L82.4 134.6 L102.7 149.8 L123.1 166.7 L143.4 184.6 L163.7 203.1 L184.1 221.4 L204.4 238.9 L224.8 256.0 L245.1 273.0 L265.4 290.2 L285.8 308.0 L306.1 326.1 L326.5 344.2 L346.8 362.1 L367.1 379.6 L387.5 398.4 L399.4 409.2 L399.9 422.4 L399.8 423.1 L420.3 440.1 L449.5 463.6 L479.1 487.5 L491.3 498.1 L498.1 505.7 L501.1 512.6 L501.5 523.2 L502.1 536.1 L502.8 540.6 L515.4 545.6 L534.8 554.3 L551.5 563.5 L568.2 572.6 L585.7 580.2 L602.8 591.6 L619.5 601.0 L636.3 610.9 L653.4 620.4 L670.5 628.8 L687.2 637.9 L704.1 647.8 L720.8 656.9 L772.2 684.3 L789.7 693.1 L806.4 702.2 L823.9 711.3 L840.6 720.1 L858.1 728.4 L868.9 735.7 L873.3 738.0 L931.5 767.7 L984.1 798.4 L1009.1 819.5 L1064.7 848.6 L1147.9 888.9 L1222.9 922.0 L1237.4 928.6" stroke="#00c8c8" stroke-width="8.8" stroke-dasharray="14.5 4.8" stroke-dashoffset="0"/>
</g>
<rect x="299.4" y="423.2" width="573.9" height="336.1" fill="none" stroke="#000" stroke-width="4.5"/>
<g font-family="&quot;Liberation Sans&quot;, sans-serif" fill="#000" stroke="#000" stroke-width="0.35" stroke-linejoin="round" font-size="44.4">
<text transform="translate(375.0 887.0) scale(0.9910 1)" text-anchor="middle">10<tspan font-size="36.6" dy="-16.0">7</tspan></text>
<text transform="translate(939.2 887.0) scale(0.9910 1)" text-anchor="middle">10<tspan font-size="36.6" dy="-16.0">8</tspan></text>
<text transform="translate(1503.4 887.0) scale(0.9910 1)" text-anchor="middle">10<tspan font-size="36.6" dy="-16.0">9</tspan></text>
<text transform="translate(191.9 856.8) scale(0.9910 1)" text-anchor="end">10<tspan font-size="36.6" dy="-16.0">5</tspan></text>
<text transform="translate(191.9 707.1) scale(0.9910 1)" text-anchor="end">10<tspan font-size="36.6" dy="-16.0">6</tspan></text>
<text transform="translate(191.9 557.4) scale(0.9910 1)" text-anchor="end">10<tspan font-size="36.6" dy="-16.0">7</tspan></text>
<text transform="translate(191.9 407.7) scale(0.9910 1)" text-anchor="end">10<tspan font-size="36.6" dy="-16.0">8</tspan></text>
<text transform="translate(191.9 258.0) scale(0.9910 1)" text-anchor="end">10<tspan font-size="36.6" dy="-16.0">9</tspan></text>
<text transform="translate(191.9 108.4) scale(0.9910 1)" text-anchor="end">10<tspan font-size="36.6" dy="-16.0">10</tspan></text>
<text transform="translate(853.8 930.5) scale(0.9910 1)" text-anchor="middle">Radius [cm]</text>
<text transform="translate(78.7 443) rotate(-90) scale(0.9910 1)" text-anchor="middle">Density [g cm<tspan font-size="36.6" dy="-16.0">-3</tspan><tspan dy="16.0">]</tspan></text>
<text transform="translate(1077.6 102.6) scale(0.9910 1)" text-anchor="end">s9</text>
<path d="M1102.0 85.4 H1217.0" stroke="#000000" stroke-width="4.4" fill="none"/>
<text transform="translate(1077.6 146.5) scale(0.9910 1)" text-anchor="end">s10</text>
<path d="M1102.0 129.3 H1217.0" stroke="#000000" stroke-width="8.8" stroke-dasharray="14.5 4.8" fill="none"/>
<text transform="translate(1077.6 190.4) scale(0.9910 1)" text-anchor="end">s11</text>
<path d="M1102.0 173.2 H1217.0" stroke="#a0a0a0" stroke-width="4.4" fill="none"/>
<text transform="translate(1077.6 234.3) scale(0.9910 1)" text-anchor="end">s12</text>
<path d="M1102.0 217.1 H1217.0" stroke="#a0a0a0" stroke-width="8.8" stroke-dasharray="14.5 4.8" fill="none"/>
<text transform="translate(1077.6 278.2) scale(0.9910 1)" text-anchor="end">s13</text>
<path d="M1102.0 261.0 H1217.0" stroke="#0080ff" stroke-width="8.8" stroke-dasharray="14.5 4.8" fill="none"/>
<text transform="translate(1077.6 322.1) scale(0.9910 1)" text-anchor="end">s14</text>
<path d="M1102.0 304.9 H1217.0" stroke="#0080ff" stroke-width="4.4" fill="none"/>
<text transform="translate(1077.6 366.0) scale(0.9910 1)" text-anchor="end">s15</text>
<path d="M1102.0 348.8 H1217.0" stroke="#00c8c8" stroke-width="8.8" stroke-dasharray="14.5 4.8" fill="none"/>
<text transform="translate(1077.6 409.9) scale(0.9910 1)" text-anchor="end">s16</text>
<path d="M1102.0 392.7 H1217.0" stroke="#00c8c8" stroke-width="4.4" fill="none"/>
<text transform="translate(1315.1 102.6) scale(0.9910 1)" text-anchor="end">s17</text>
<path d="M1338.8 85.4 H1453.8" stroke="#008040" stroke-width="8.8" stroke-dasharray="14.5 4.8" fill="none"/>
<text transform="translate(1315.1 146.5) scale(0.9910 1)" text-anchor="end">s18</text>
<path d="M1338.8 129.3 H1453.8" stroke="#008040" stroke-width="4.4" fill="none"/>
<text transform="translate(1315.1 190.4) scale(0.9910 1)" text-anchor="end">s19</text>
<path d="M1338.8 173.2 H1453.8" stroke="#c000ff" stroke-width="4.4" fill="none"/>
<text transform="translate(1315.1 234.3) scale(0.9910 1)" text-anchor="end">s20</text>
<path d="M1338.8 217.1 H1453.8" stroke="#ffa500" stroke-width="4.4" fill="none"/>
<text transform="translate(1315.1 278.2) scale(0.9910 1)" text-anchor="end">s21</text>
<path d="M1338.8 261.0 H1453.8" stroke="#c000ff" stroke-width="8.8" stroke-dasharray="14.5 4.8" fill="none"/>
<text transform="translate(1315.1 322.1) scale(0.9910 1)" text-anchor="end">s22</text>
<path d="M1338.8 304.9 H1453.8" stroke="#ffa500" stroke-width="8.8" stroke-dasharray="14.5 4.8" fill="none"/>
<text transform="translate(1315.1 366.0) scale(0.9910 1)" text-anchor="end">s23</text>
<path d="M1338.8 348.8 H1453.8" stroke="#ff0000" stroke-width="8.8" stroke-dasharray="14.5 4.8" fill="none"/>
<text transform="translate(1315.1 409.9) scale(0.9910 1)" text-anchor="end">s24</text>
<path d="M1338.8 392.7 H1453.8" stroke="#ff0000" stroke-width="4.4" fill="none"/>
</g>
</svg>
</body></html>
